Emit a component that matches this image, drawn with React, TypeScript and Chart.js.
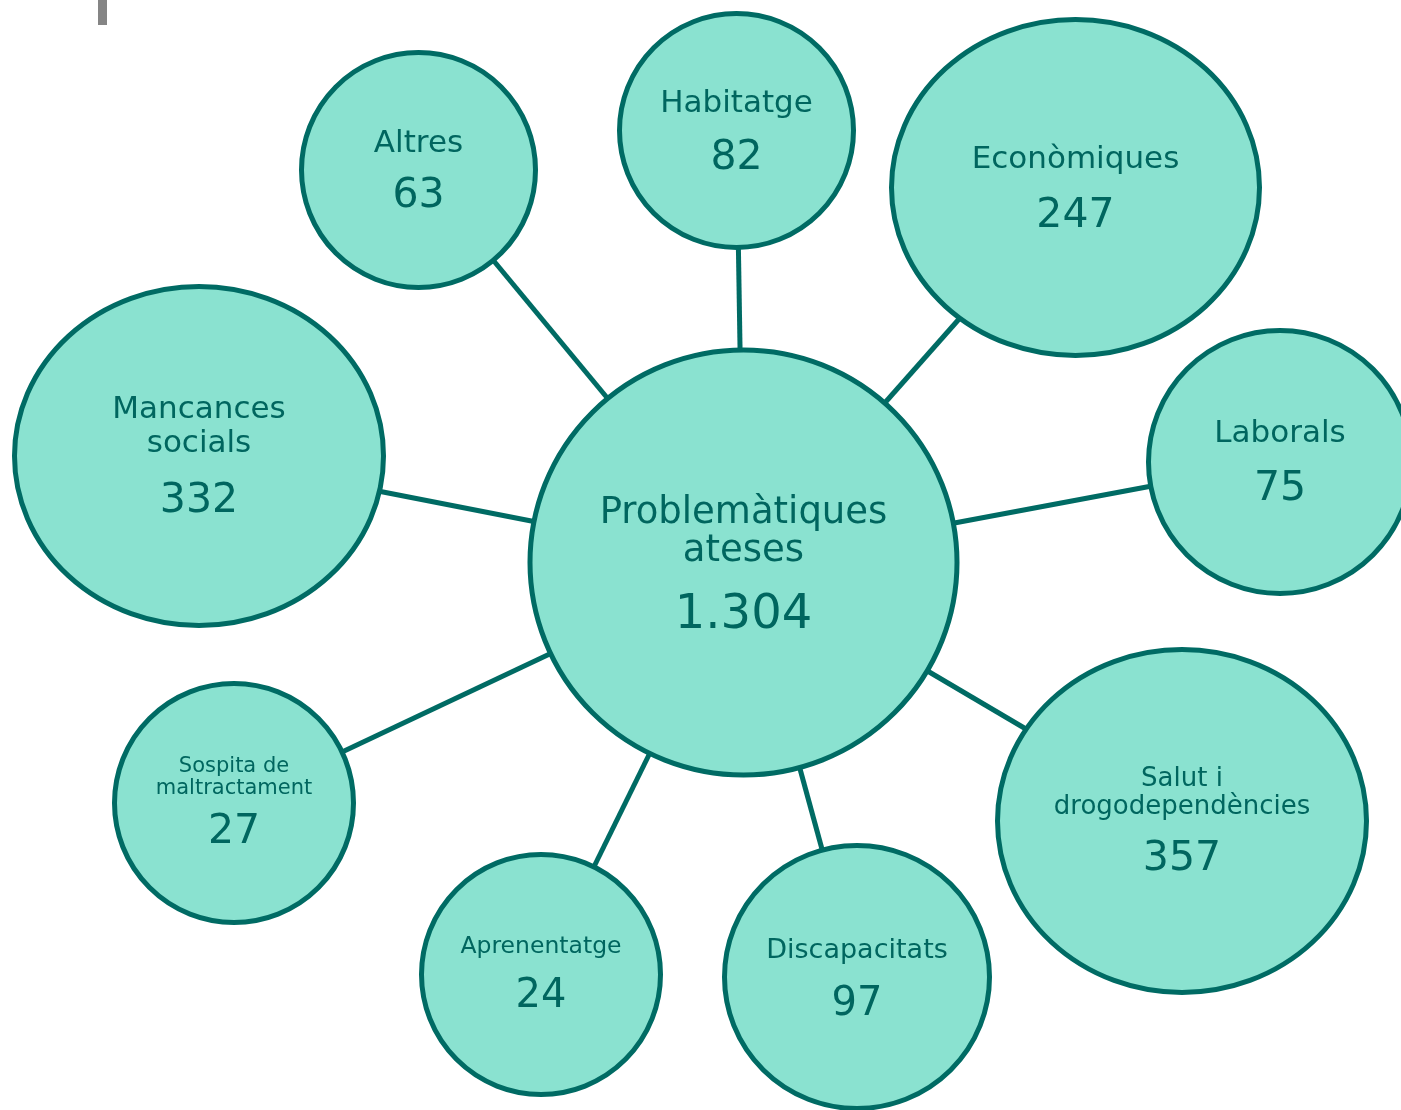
import React, { useEffect, useRef } from "react";
import { Chart, registerables } from "chart.js";

Chart.register(...registerables);

// ---- data ----
const categories = [
  "Problemàtiques ateses",
  "Altres",
  "Habitatge",
  "Econòmiques",
  "Laborals",
  "Salut i drogodependències",
  "Discapacitats",
  "Aprenentatge",
  "Sospita de maltractament",
  "Mancances socials",
];
const values = [1304, 63, 82, 247, 75, 357, 97, 24, 27, 332];
const labelLines = [
  ["Problemàtiques", "ateses"],
  ["Altres"],
  ["Habitatge"],
  ["Econòmiques"],
  ["Laborals"],
  ["Salut i", "drogodependències"],
  ["Discapacitats"],
  ["Aprenentatge"],
  ["Sospita de", "maltractament"],
  ["Mancances", "socials"],
];

// ---- layout (data units of the hidden linear scales) ----
const nodeX = [743.5, 418.5, 736.5, 1075.5, 1280, 1182, 857, 541, 234, 199];
const nodeY = [562.5, 170, 130.5, 187.5, 462, 821, 977, 974.5, 803, 456];
const radiusX = [213.5, 117, 117, 184, 131.5, 184.5, 132.5, 119.5, 119.5, 184.5];
const radiusY = [212.5, 117.5, 117, 168, 131.5, 171.5, 131.5, 120, 119.5, 169.5];

// ---- text styles ----
const labelSize = [37, 31, 31, 31, 31, 26, 27, 23.5, 21, 31];
const labelFirstBaseline = [-40, -18, -19, -20, -20, -35, -19, -21.5, -31, -38];
const labelLineGap = [38.5, 0, 0, 0, 0, 28, 0, 0, 21.5, 33.5];
const numberSize = [48, 41, 41, 41, 41, 41, 40, 40, 41, 41];
const numberBaseline = [65, 37, 38.5, 39, 38, 49, 37.5, 32, 40, 56];

const FILL = "#8ae2d0";
const STROKE = "#006b64";
const TEXT = "#00665f";
const FONT = "'DejaVu Sans', Verdana, sans-serif";
const LINE_W = 5;

function fmt(v: number): string {
  return String(v).replace(/\B(?=(\d{3})+(?!\d))/g, ".");
}

const hubPlugin = {
  id: "hubPlugin",
  afterDatasetsDraw(chart: any) {
    const ctx: CanvasRenderingContext2D = chart.ctx;
    const xs = chart.scales.x;
    const ys = chart.scales.y;
    const n = categories.length;
    const cx = (i: number) => xs.getPixelForValue(nodeX[i]);
    const cy = (i: number) => ys.getPixelForValue(nodeY[i]);
    const rx = (i: number) => Math.abs(xs.getPixelForValue(nodeX[i] + radiusX[i]) - cx(i));
    const ry = (i: number) => Math.abs(ys.getPixelForValue(nodeY[i] + radiusY[i]) - cy(i));

    ctx.save();
    // small grey mark at top-left
    ctx.fillStyle = "#858585";
    ctx.fillRect(98, 0, 9, 25);

    // connectors
    ctx.strokeStyle = STROKE;
    ctx.lineWidth = LINE_W;
    for (let i = 1; i < n; i++) {
      ctx.beginPath();
      ctx.moveTo(cx(0), cy(0));
      ctx.lineTo(cx(i), cy(i));
      ctx.stroke();
    }
    // bubbles
    for (let i = 0; i < n; i++) {
      ctx.beginPath();
      ctx.ellipse(cx(i), cy(i), rx(i), ry(i), 0, 0, Math.PI * 2);
      ctx.fillStyle = FILL;
      ctx.fill();
      ctx.lineWidth = LINE_W;
      ctx.strokeStyle = STROKE;
      ctx.stroke();
    }
    // text
    ctx.fillStyle = TEXT;
    ctx.textAlign = "center";
    ctx.textBaseline = "alphabetic";
    for (let i = 0; i < n; i++) {
      ctx.font = `${labelSize[i]}px ${FONT}`;
      labelLines[i].forEach((line, k) => {
        ctx.fillText(line, cx(i), cy(i) + labelFirstBaseline[i] + k * labelLineGap[i]);
      });
      ctx.font = `${numberSize[i]}px ${FONT}`;
      ctx.fillText(fmt(values[i]), cx(i), cy(i) + numberBaseline[i]);
    }
    ctx.restore();
  },
};

export default function App() {
  const ref = useRef<HTMLCanvasElement | null>(null);
  useEffect(() => {
    document.body.style.margin = "0";
    document.body.style.overflow = "hidden";
    if (!ref.current) return;
    const chart = new Chart(ref.current, {
      type: "scatter",
      data: {
        labels: categories,
        datasets: [
          {
            label: "Problemàtiques",
            data: nodeX.map((x, i) => ({ x, y: nodeY[i] })),
            pointRadius: 0,
            pointHoverRadius: 0,
          },
        ],
      },
      options: {
        animation: false,
        responsive: false,
        maintainAspectRatio: false,
        devicePixelRatio: 1,
        layout: { padding: 0 },
        plugins: { legend: { display: false }, tooltip: { enabled: false } },
        events: [],
        scales: {
          x: { type: "linear", min: 0, max: 1401, display: false },
          y: { type: "linear", min: 0, max: 1110, reverse: true, display: false },
        },
      },
      plugins: [hubPlugin],
    });
    return () => chart.destroy();
  }, []);
  return (
    <div style={{ width: 1401, height: 1110, background: "#fff" }}>
      <canvas ref={ref} width={1401} height={1110} style={{ display: "block", width: 1401, height: 1110 }} />
    </div>
  );
}
